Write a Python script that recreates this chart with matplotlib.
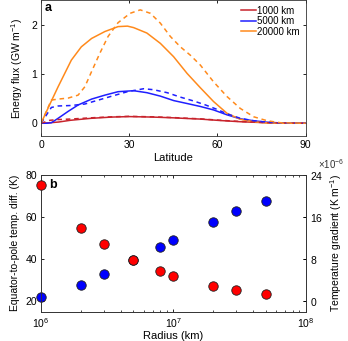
import matplotlib
matplotlib.use('Agg')
import matplotlib.pyplot as plt
from matplotlib.ticker import ScalarFormatter

plt.rcParams['font.family'] = ['Liberation Sans', 'DejaVu Sans']
plt.rcParams['mathtext.fontset'] = 'custom'
plt.rcParams['mathtext.rm'] = 'Liberation Sans'
plt.rcParams['mathtext.it'] = 'Liberation Sans:italic'

# panel a: energy flux vs latitude (solid / dashed for each radius)
red_lat = [0, 3, 6, 10, 17, 24, 30, 38, 45, 50, 54, 61, 68, 77, 84, 90]
red_solid = [0, 0.01, 0.025, 0.06, 0.1, 0.125, 0.135, 0.125, 0.11, 0.095, 0.085, 0.055, 0.03, 0.01, 0.003, 0]
red_dash = [0, 0.06, 0.075, 0.085, 0.11, 0.13, 0.14, 0.13, 0.115, 0.1, 0.09, 0.06, 0.035, 0.012, 0.004, 0]

blue_lat = [0, 2, 3.5, 5.8, 9.2, 12.6, 17.2, 21.7, 26.2, 31.5, 36, 40.6, 45.1, 49.7, 54.2, 58.7, 63.3, 67.8, 72.4, 77, 82, 90]
blue_solid = [0, 0, 0.01, 0.1, 0.24, 0.37, 0.49, 0.57, 0.64, 0.66, 0.62, 0.55, 0.46, 0.4, 0.34, 0.27, 0.17, 0.09, 0.05, 0.02, 0.005, 0]
blue_dash_lat = [0, 3.5, 5.8, 10.3, 14.9, 19.5, 24.1, 29.4, 34.9, 38.3, 42.9, 47.4, 52, 56, 59.5, 63.3, 67.8, 72.4, 77, 82, 90]
blue_dash = [0, 0.32, 0.35, 0.36, 0.39, 0.47, 0.55, 0.64, 0.7, 0.68, 0.62, 0.53, 0.45, 0.37, 0.29, 0.19, 0.1, 0.05, 0.02, 0.005, 0]

orange_lat = [0, 3.5, 5.8, 10.3, 13.7, 17.2, 21.7, 26.2, 29.4, 31.5, 36, 40.6, 45.1, 49.7, 54.2, 58.7, 63.3, 67.8, 72.4, 77, 82, 90]
orange_solid = [0, 0.45, 0.74, 1.28, 1.55, 1.72, 1.86, 1.96, 1.97, 1.94, 1.83, 1.62, 1.35, 1.01, 0.72, 0.44, 0.2, 0.08, 0.03, 0.005, 0, 0]
orange_dash_lat = [0, 3.5, 5.8, 9.2, 12.6, 14.9, 17.2, 20, 22.8, 26.2, 30.3, 33.75, 37.2, 40.6, 44, 47.4, 50.8, 54.2, 58.7, 63.3, 67.8, 72.4, 77, 81.5, 90]
orange_dash = [0, 0.47, 0.49, 0.51, 0.57, 0.74, 1.05, 1.42, 1.76, 2.04, 2.23, 2.3, 2.23, 2.03, 1.76, 1.55, 1.38, 1.18, 0.84, 0.54, 0.3, 0.13, 0.05, 0.01, 0]

radii_labels = ['1000 km', '5000 km', '20000 km']
line_colors = ['#c8232c', '#1f1fff', '#ff8a1c']

# panel b: scatter vs radius
radius = [1e6, 2e6, 3e6, 5e6, 8e6, 1e7, 2e7, 3e7, 5e7]
temp_diff = [21.9, 27.6, 32.6, 39.3, 45.6, 49.0, 57.7, 62.7, 67.4]
temp_grad = [22.1e-6, 13.9e-6, 10.8e-6, 7.8e-6, 5.6e-6, 4.7e-6, 2.8e-6, 2.0e-6, 1.2e-6]

fig = plt.figure(figsize=(3.48, 3.41), dpi=100)
ax1 = fig.add_axes([0.118, 0.601, 0.760, 0.399])
ax2 = fig.add_axes([0.118, 0.086, 0.760, 0.401])

lw = 1.1
ax1.plot(red_lat, red_solid, color=line_colors[0], lw=lw, label=radii_labels[0])
ax1.plot(blue_lat, blue_solid, color=line_colors[1], lw=lw, label=radii_labels[1])
ax1.plot(orange_lat, orange_solid, color=line_colors[2], lw=lw, label=radii_labels[2])
ax1.plot(red_lat, red_dash, color=line_colors[0], lw=lw, ls=(0, (3, 2.5)))
ax1.plot(blue_dash_lat, blue_dash, color=line_colors[1], lw=lw, ls=(0, (3, 2.5)))
ax1.plot(orange_dash_lat, orange_dash, color=line_colors[2], lw=lw, ls=(0, (3, 2.5)))

ax1.set_xlim(0, 90)
ax1.set_ylim(-0.26, 2.5)
ax1.set_xticks([0, 30, 60, 90])
ax1.set_yticks([0, 1, 2])
ax1.set_xlabel('Latitude', fontsize=8, labelpad=2)
ax1.set_ylabel('Energy flux (GW m$^{-1}$)', fontsize=7.5, labelpad=4)
ax1.text(0.015, 0.985, 'a', transform=ax1.transAxes, fontsize=9, fontweight='bold', va='top')
ax1.legend(loc='upper right', fontsize=7, frameon=False, handlelength=1.6,
           handletextpad=0.1, labelspacing=0.05, borderaxespad=0.2)

ax2.plot(radius, temp_diff, 'o', color='#0000ff', mec='#202020', mew=0.6, ms=6.8, clip_on=False, zorder=3)
ax2.set_xscale('log')
ax2.set_xlim(1e6, 1e8)
ax2.set_ylim(14.8, 80)
ax2.set_yticks([20, 40, 60, 80])
ax2.set_xlabel('Radius (km)', fontsize=8, labelpad=1)
ax2.set_ylabel('Equator-to-pole temp. diff. (K)', fontsize=7.5, labelpad=4)

ax3 = ax2.twinx()
ax3.plot(radius, temp_grad, 'o', color='#ff0000', mec='#202020', mew=0.6, ms=6.8, clip_on=False, zorder=3)
ax3.set_xlim(1e6, 1e8)
ax3.set_ylim(-2.08e-6, 24e-6)
ax3.set_yticks([0, 8e-6, 16e-6, 24e-6])
fmt = ScalarFormatter(useMathText=True)
fmt.set_powerlimits((-6, -6))
ax3.yaxis.set_major_formatter(fmt)
ax3.yaxis.get_offset_text().set_visible(False)
fig.text(0.915, 0.505, r'$\times 10^{-6}$', fontsize=7, family='DejaVu Serif', color='#333333')
ax3.set_ylabel('Temperature gradient (K m$^{-1}$)', fontsize=7.5, labelpad=4)
ax2.text(0.03, 0.97, 'b', transform=ax2.transAxes, fontsize=9, fontweight='bold', va='top', zorder=5)

for ax in (ax1, ax2):
    ax.tick_params(direction='in', top=True, right=True, labelsize=7.5, length=2.5, width=0.6, pad=3)
    ax.tick_params(which='minor', direction='in', top=True, right=False, length=1.5, width=0.5)
ax3.tick_params(direction='in', labelsize=7.5, length=2.5, width=0.6, pad=3)
for ax in (ax1, ax2, ax3):
    for s in ax.spines.values():
        s.set_color('#333333')
        s.set_linewidth(0.6)

fig.savefig('out.png', dpi=100)
